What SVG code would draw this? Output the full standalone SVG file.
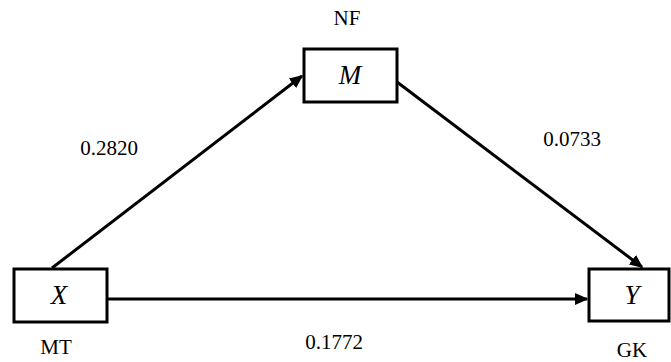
<svg xmlns="http://www.w3.org/2000/svg" width="671" height="362" viewBox="0 0 671 362">
<style>
.box{fill:#fff;stroke:#000;stroke-width:3}
.lbl{font-size:21px;fill:#000;text-anchor:middle}
.var{font-size:27px;font-style:italic;fill:#000;text-anchor:middle}
.conn{stroke:#000;stroke-width:3;fill:none;marker-end:url(#ah)}
</style>
<defs>
<marker id="ah" markerWidth="4.5" markerHeight="4" refX="4" refY="2" orient="auto" markerUnits="strokeWidth">
<path d="M0,0 L4.5,2 L0,4 z" fill="#000"/>
</marker>
</defs>
<rect width="671" height="362" fill="#fff"/>
<g id="connectors">
<line class="conn" x1="52" y1="268" x2="302" y2="76"/>
<line class="conn" x1="397" y1="82" x2="642" y2="267"/>
<line class="conn" x1="107" y1="299" x2="587" y2="299"/>
</g>
<g font-family="Liberation Serif, DejaVu Serif, serif">
<g id="node-M">
<rect class="box" x="304" y="49" width="93" height="53"/>
<text class="var" x="350" y="84">M</text>
<text class="lbl" x="347" y="25">NF</text>
</g>
<g id="node-X">
<rect class="box" x="14" y="269" width="93" height="53"/>
<text class="var" x="59" y="304">X</text>
<text class="lbl" x="56" y="354">MT</text>
</g>
<g id="node-Y">
<rect class="box" x="589" y="269" width="80" height="52"/>
<text class="var" x="632" y="304">Y</text>
<text class="lbl" x="632" y="357">GK</text>
</g>
<g id="labels">
<text class="lbl" x="109" y="155">0.2820</text>
<text class="lbl" x="572" y="146">0.0733</text>
<text class="lbl" x="334" y="349">0.1772</text>
</g>
</g>
</svg>
